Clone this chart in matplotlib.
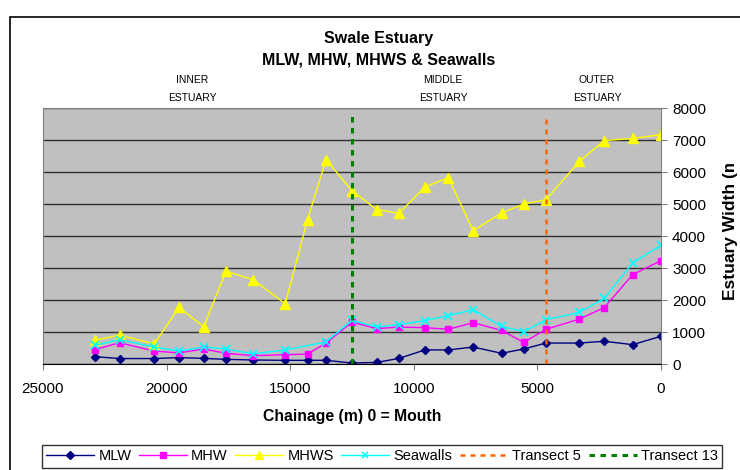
import numpy as np
import matplotlib
matplotlib.use("Agg")
import matplotlib.pyplot as plt
from matplotlib.patches import Rectangle
from matplotlib.transforms import Bbox

plt.rcParams['font.family'] = ['Liberation Sans', 'DejaVu Sans']

# chainage from mouth (m)
chainage = [22900, 21900, 20500, 19500, 18500, 17600, 16500, 15200, 14300, 13550,
            12500, 11500, 10600, 9550, 8600, 7600, 6450, 5550, 4650, 3300, 2300, 1150, 0]

mlw = [230, 170, 170, 200, 175, 145, 125, 115, 115, 115, 30, 50,
       175, 440, 440, 530, 335, 470, 655, 655, 710, 605, 865]
mhw = [450, 665, 405, 345, 470, 335, 260, 290, 310, 655, 1310, 1105,
       1155, 1135, 1085, 1290, 1050, 675, 1085, 1405, 1760, 2790, 3230]
mhws = [740, 905, 625, 1770, 1165, 2895, 2635, 1885, 4510, 6385, 5415, 4825,
        4710, 5530, 5825, 4165, 4720, 5000, 5135, 6335, 6980, 7050, 7165]
seawalls = [585, 760, 530, 405, 530, 470, 315, 440, np.nan, 690, 1365, 1155,
            1230, 1355, 1510, 1700, 1175, 1010, 1385, 1615, 2050, 3155, 3710]

transect5 = 4650
transect13 = 12500
transect_y = [0, 7750]

zones = ['INNER\nESTUARY', 'MIDDLE\nESTUARY', 'OUTER\nESTUARY']
zone_x = [192, 443, 597]

fig = plt.figure(figsize=(7.4, 4.7), dpi=100)
ax = fig.add_axes([43 / 740, 1 - 364 / 470, 618 / 740, 256 / 470])
ax.set_facecolor('#C0C0C0')

# outer chart frame
fig.patches.append(Rectangle((10 / 740, -0.1), 1.2, 1 - 17 / 470 + 0.1,
                             transform=fig.transFigure, fill=False,
                             edgecolor='black', linewidth=1.2))

ax.plot(chainage, mlw, color='#000080', marker='D', markersize=4.5, linewidth=1, label='MLW')
ax.plot(chainage, mhw, color='#FF00FF', marker='s', markersize=5, linewidth=1, label='MHW')
ax.plot(chainage, mhws, color='#FFFF00', marker='^', markersize=6.5, linewidth=1, label='MHWS')
sw = np.array(seawalls, dtype=float)
ok = ~np.isnan(sw)
ax.plot(np.array(chainage)[ok], sw[ok], color='#00FFFF', marker='x', markersize=6,
        markeredgewidth=1.2, linewidth=1, label='Seawalls')
ax.plot([transect5, transect5], transect_y, color='#FF6600', linewidth=1.8,
        dashes=(2, 2), label='Transect 5')
ax.plot([transect13, transect13], transect_y, color='#008000', linewidth=2.2,
        dashes=(1.8, 1.8), label='Transect 13')

ax.set_xlim(25000, 0)
ax.set_ylim(0, 8000)
ax.set_xticks(range(25000, -1, -5000))
ax.set_yticks(range(0, 8001, 1000))
ax.yaxis.tick_right()
ax.grid(axis='y', color='#303030', linewidth=1)
ax.set_axisbelow(True)
ax.tick_params(axis='x', direction='out', length=4, color='#808080', labelsize=11, pad=9)
ax.tick_params(axis='y', direction='out', length=4, color='#808080', labelsize=11, pad=4)
for s in ['top', 'left', 'right']:
    ax.spines[s].set_color('#808080')
ax.spines['bottom'].set_color('black')

ax.set_xlabel('Chainage (m) 0 = Mouth', fontsize=11.3, fontweight='bold', labelpad=9)

# y axis title, clipped at the top like in the source
yl = fig.text(731 / 740, 170 / 470, 'Estuary Width (m)', rotation=90,
              ha='center', va='bottom', fontsize=12.5, fontweight='bold')
yl.set_clip_box(Bbox.from_extents(0, 100, 740, 470 - 164))
yl.set_clip_on(True)

fig.text(379 / 740, 1 - 39 / 470, 'Swale Estuary', ha='center', va='center',
         fontsize=11.5, fontweight='bold')
fig.text(379 / 740, 1 - 60 / 470, 'MLW, MHW, MHWS & Seawalls', ha='center', va='center',
         fontsize=11.5, fontweight='bold')
for z, zx in zip(zones, zone_x):
    fig.text(zx / 740, 1 - 89 / 470, z, ha='center', va='center', fontsize=7.5,
             linespacing=1.9)

leg = fig.legend(loc='upper center', bbox_to_anchor=(382 / 740, 1 - 445 / 470), ncol=6,
                 fontsize=10.5, frameon=True, fancybox=False, borderaxespad=0,
                 edgecolor='black', handlelength=3.3, handletextpad=0.3,
                 columnspacing=0.5, borderpad=0.3, markerscale=0.8)
leg.get_frame().set_linewidth(1)

fig.savefig('out.png', dpi=100)
